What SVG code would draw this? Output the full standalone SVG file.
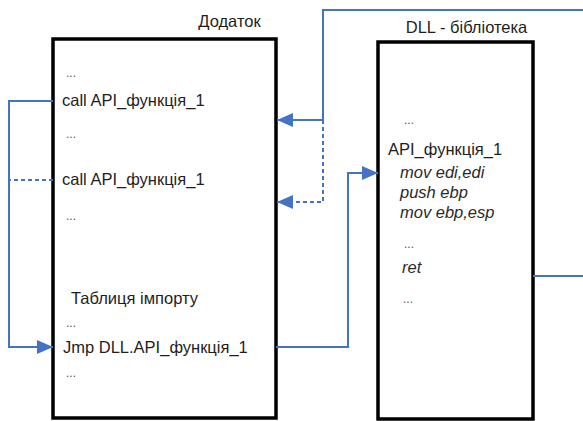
<svg xmlns="http://www.w3.org/2000/svg" width="583" height="421" viewBox="0 0 583 421">
<style>
.box{fill:#fff;stroke:#000;stroke-width:3.5}
.t{font-family:"Liberation Sans",Arial,sans-serif;font-size:16.5px;fill:#1e1e1e}
.i{font-style:italic;fill:#2a2a2a}
.d{font-family:"Liberation Sans",Arial,sans-serif;font-size:12px;fill:#555}
.c{fill:none;stroke:#4472C4;stroke-width:2}
.dash{stroke-dasharray:4 3}
</style>
<defs>
<marker id="ah" viewBox="0 0 16 14" markerUnits="userSpaceOnUse" markerWidth="16" markerHeight="14" refX="16" refY="7" orient="auto">
<path d="M0,0 L16,7 L0,14 z" fill="#4472C4"/>
</marker>
</defs>
<rect width="583" height="421" fill="#fff"/>
<g id="app">
<text class="t" x="229.5" y="27" text-anchor="middle">Додаток</text>
<rect class="box" x="53" y="39" width="223" height="379"/>
<text class="d" x="66" y="77">...</text>
<text class="t" x="62" y="106">call API_функція_1</text>
<text class="d" x="66" y="138">...</text>
<text class="t" x="62" y="185">call API_функція_1</text>
<text class="d" x="66" y="220">...</text>
<text class="t" x="71" y="304">Таблиця імпорту</text>
<text class="d" x="66" y="327">...</text>
<text class="t" x="63" y="353">Jmp DLL.API_функція_1</text>
<text class="d" x="66" y="377">...</text>
</g>
<g id="dll">
<text class="t" x="466.5" y="33" text-anchor="middle">DLL - бібліотека</text>
<rect class="box" x="378" y="42" width="155" height="377"/>
<text class="d" x="404" y="124">...</text>
<text class="t" x="388" y="155">API_функція_1</text>
<text class="t i" x="400" y="178">mov edi,edi</text>
<text class="t i" x="400" y="198">push ebp</text>
<text class="t i" x="400" y="218">mov ebp,esp</text>
<text class="d" x="404" y="248">...</text>
<text class="t i" x="402" y="273">ret</text>
<text class="d" x="403" y="303">...</text>
</g>
<g id="connectors">
<path class="c" d="M53,101 H9 V347 H53" marker-end="url(#ah)"/>
<path class="c dash" d="M53,180 H9"/>
<path class="c" d="M583,10 H323 V120 H277" marker-end="url(#ah)"/>
<path class="c dash" d="M323,120 V202 H277" marker-end="url(#ah)"/>
<path class="c" d="M276,347 H348 V173 H378" marker-end="url(#ah)"/>
<path class="c" d="M533,276 H583"/>
</g>
</svg>
